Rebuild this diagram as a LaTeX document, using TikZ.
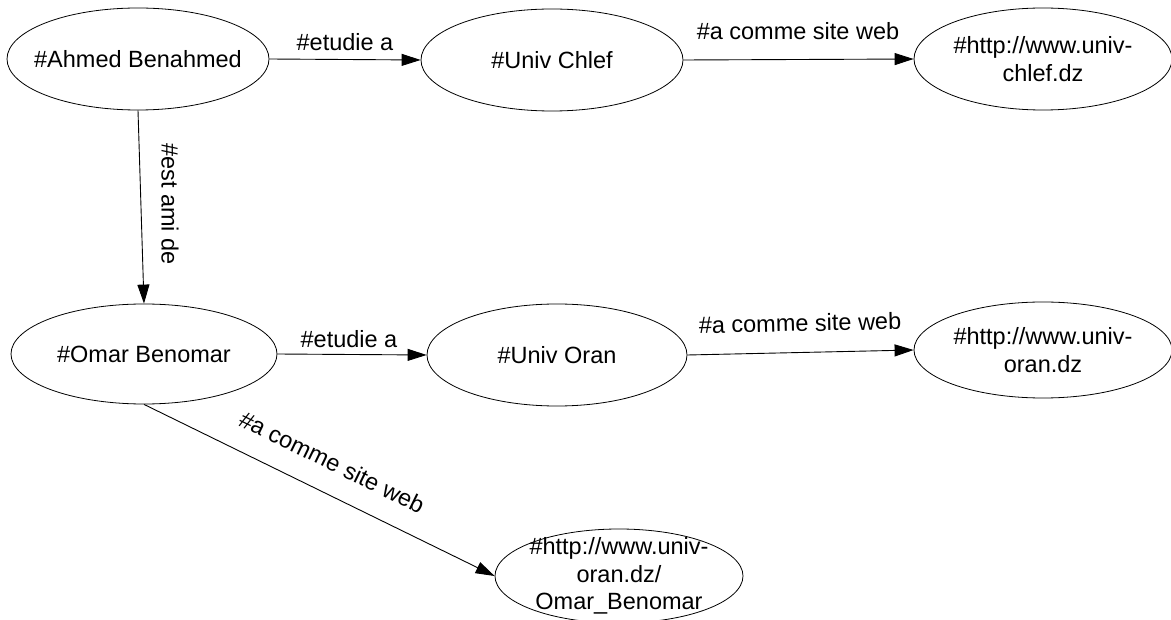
\documentclass[tikz,border=0pt]{standalone}
\usepackage{fontspec}
\setmainfont{Liberation Sans}
\usetikzlibrary{shapes.geometric,arrows.meta}
\tikzset{
  ell/.style={ellipse, draw, line width=0.8pt, inner sep=0pt},
  txt/.style={font=\fontsize{23.5}{27.5}\selectfont, align=center, inner sep=0pt},
  lbl/.style={font=\fontsize{23.5}{27.5}\selectfont, inner sep=0pt},
  conn/.style={line width=0.9pt, -{Triangle[length=19pt,width=12pt]}},
}
\begin{document}
\begin{tikzpicture}[x=1pt,y=-1pt]
\useasboundingbox (0,0) rectangle (1171,620);
% ellipses
\node[ell, minimum width=262pt, minimum height=102pt] (ahmed) at (138,59) {};
\node[ell, minimum width=262pt, minimum height=102pt] (chlef) at (552,60) {};
\node[ell, minimum width=258pt, minimum height=102pt] (urlchlef) at (1043,59) {};
\node[ell, minimum width=266pt, minimum height=100pt] (omar) at (144,354) {};
\node[ell, minimum width=260pt, minimum height=102pt] (oran) at (557,355) {};
\node[ell, minimum width=258pt, minimum height=96pt] (urloran) at (1043,350) {};
\node[ell, minimum width=248pt, minimum height=94pt] (site) at (619,576) {};
% texts
\node[txt] (tahmed) at (ahmed) {\#Ahmed Benahmed};
\node[txt] (tchlef) at (chlef) {\#Univ Chlef};
\node[txt] (turlchlef) at (urlchlef) {\#http://www.univ-\\chlef.dz};
\node[txt] (tomar) at (omar) {\#Omar Benomar};
\node[txt] (toran) at (oran) {\#Univ Oran};
\node[txt] (turloran) at (urloran) {\#http://www.univ-\\oran.dz};
\node[txt] (tsite) at (site) {\#http://www.univ-\\oran.dz/\\Omar\_Benomar};
% connectors
\draw[conn] (ahmed.south) -- (omar.north);
\draw[conn] (ahmed.east) -- (chlef.west);
\draw[conn] (chlef.east) -- (urlchlef.west);
\draw[conn] (omar.east) -- (oran.west);
\draw[conn] (oran.east) -- (urloran.west);
\draw[conn] (omar.south) -- (site.west);
% labels
\node[lbl] (l1) at (345,42) {\#etudie a};
\node[lbl] (l2) at (798,31) {\#a comme site web};
\node[lbl, rotate=-90] (l3) at (170,204) {\#est ami de};
\node[lbl] (l4) at (349,339) {\#etudie a};
\node[lbl, rotate=1.3] (l5) at (800,323) {\#a comme site web};
\node[lbl, rotate=-26] (l6) at (332,462) {\#a comme site web};
\end{tikzpicture}
\end{document}
